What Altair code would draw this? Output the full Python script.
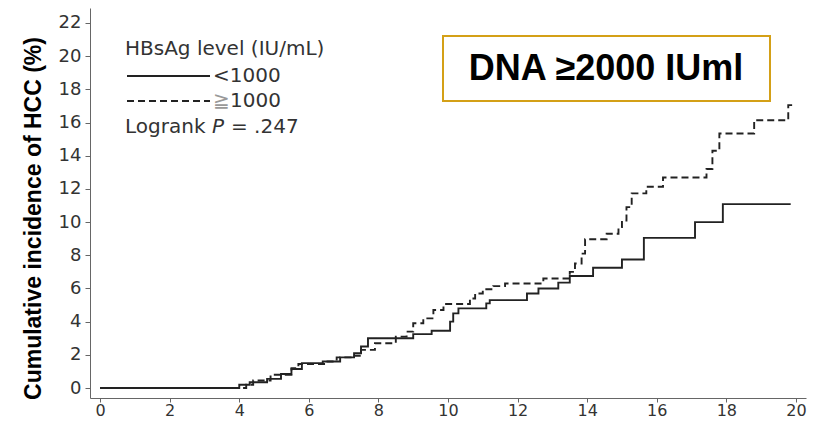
import altair as alt
import pandas as pd

# ---- data ----
low_x = [0, 4.0, 4.3, 4.8, 5.2, 5.5, 5.8, 6.4, 6.9, 7.3, 7.5, 7.7, 9.0, 9.53, 10.06, 10.15, 10.3,
         11.1, 11.2, 12.27, 12.6, 13.17, 13.5, 14.17, 15.0, 15.63, 17.1, 17.9, 19.85]
low_y = [0, 0.2, 0.35, 0.55, 0.85, 1.15, 1.5, 1.6, 1.85, 2.1, 2.5, 3.0, 3.25, 3.45, 4.0, 4.5, 4.8,
         5.1, 5.3, 5.7, 6.0, 6.35, 6.75, 7.25, 7.75, 9.05, 10.0, 11.08, 11.08]

high_x = [0, 4.2, 4.4, 4.9, 5.5, 5.7, 6.5, 6.8, 7.2, 7.5, 7.9, 8.5, 8.81, 9.0, 9.29, 9.58, 9.87,
          10.63, 10.78, 11.0, 11.3, 11.64, 12.74, 13.5, 13.65, 13.84, 13.94, 14.56, 14.9, 15.0,
          15.13, 15.28, 15.7, 16.18, 17.43, 17.6, 17.8, 18.8, 19.78, 20.0]
high_y = [0, 0.2, 0.45, 0.8, 1.2, 1.45, 1.6, 1.85, 1.95, 2.3, 2.7, 3.1, 3.4, 3.9, 4.2, 4.7, 5.06,
          5.4, 5.7, 5.95, 6.14, 6.3, 6.6, 7.0, 7.5, 8.1, 8.97, 9.3, 9.7, 10.1,
          10.9, 11.73, 12.13, 12.69, 13.2, 14.3, 15.34, 16.14, 17.05, 17.05]

groups = ["<1000", "≧1000"]
x_ticks = list(range(0, 21, 2))
y_ticks = list(range(0, 23, 2))
legend_title = "HBsAg level (IU/mL)"
p_label = ["Logrank", "P", "= .247"]
box_label = "DNA ≥2000 IUml"

df = pd.DataFrame({
    "t": low_x + high_x,
    "ci": low_y + high_y,
    "g": [groups[0]] * len(low_x) + [groups[1]] * len(high_x),
})

FONT = "DejaVu Sans"
INK = "#222222"
TXT = "#333333"

xs = alt.Scale(domain=[-0.29, 20.29], nice=False, zero=False)
ys = alt.Scale(domain=[-0.6, 22.9], nice=False, zero=False)

lines = alt.Chart(df).mark_line(interpolate="step-after", strokeWidth=1.9, color=INK).encode(
    x=alt.X("t:Q", scale=xs, axis=alt.Axis(values=x_ticks, title=None, grid=False, tickSize=4,
                                            labelFontSize=16, labelFont=FONT, labelColor=TXT,
                                            labelPadding=0, domainColor="#666", tickColor="#666")),
    y=alt.Y("ci:Q", scale=ys, axis=alt.Axis(values=y_ticks, title="Cumulative incidence of HCC (%)",
                                             grid=False, tickSize=5, labelFontSize=18, labelFont=FONT,
                                             labelColor=TXT, labelPadding=4, domainColor="#666",
                                             tickColor="#666", titleFont="Liberation Sans",
                                             titleFontSize=23, titleFontWeight="bold",
                                             titleColor="black", titlePadding=13, titleY=210)),
    strokeDash=alt.StrokeDash("g:N", scale=alt.Scale(domain=groups, range=[[1, 0], [7, 4]]), legend=None),
    detail="g:N",
)

one = pd.DataFrame({"k": [0]})
base = alt.Chart(one)


def label(text, x, y, color=TXT, style="normal"):
    return base.mark_text(text=text, font=FONT, fontSize=20, color=color, align="left",
                          baseline="middle", fontStyle=style).encode(x=alt.value(x), y=alt.value(y))


leg_title = label(legend_title, 35, 41)
leg_solid = base.mark_rule(color=INK, strokeWidth=2).encode(x=alt.value(37), x2=alt.value(120), y=alt.value(68))
leg_dash = base.mark_rule(color=INK, strokeWidth=2, strokeDash=[7, 4]).encode(
    x=alt.value(37), x2=alt.value(120), y=alt.value(93))
leg_t1 = label(groups[0], 123, 68)
leg_t2a = label(groups[1][0], 123, 93, color="#999999")
leg_t2b = label(groups[1][1:], 140, 93)
p1 = label(p_label[0], 35, 119)
p2 = label(p_label[1], 122, 119, style="italic")
p3 = label(p_label[2], 141, 119)

box = base.mark_rect(fill="white", stroke="#D4A017", strokeWidth=2).encode(
    x=alt.value(353), x2=alt.value(680), y=alt.value(28), y2=alt.value(93))
box_text = base.mark_text(text=box_label, font="Liberation Sans", fontSize=36, fontWeight="bold",
                          color="black", align="center", baseline="middle").encode(
    x=alt.value(516), y=alt.value(61))

chart = alt.layer(lines, leg_title, leg_solid, leg_dash, leg_t1, leg_t2a, leg_t2b, p1, p2, p3,
                  box, box_text).properties(
    width=716, height=390,
    background="white",
    autosize=alt.AutoSizeParams(type="none"),
    padding={"left": 82, "top": 0, "right": 16, "bottom": 20},
).configure_view(stroke=None)

chart.save("out.html", embed_options={"renderer": "svg", "actions": False})
